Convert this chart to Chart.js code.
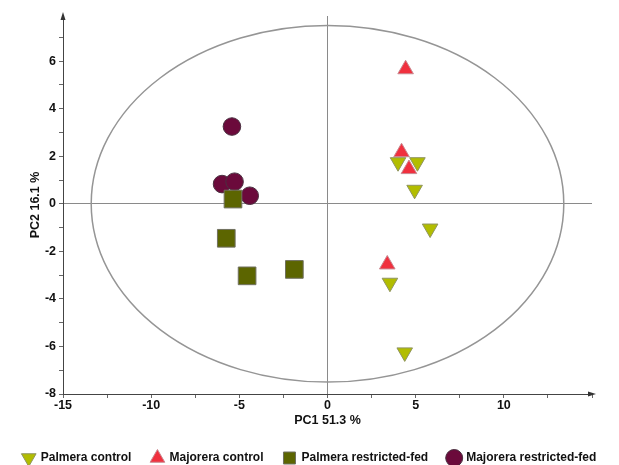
<!DOCTYPE html>
<html>
<head>
<meta charset="utf-8">
<script src="https://cdn.jsdelivr.net/npm/chart.js@4.4.1/dist/chart.umd.min.js"></script>
<style>
  html, body { margin: 0; padding: 0; background: #fff; }
  #wrap { width: 619px; height: 465px; }
</style>
</head>
<body>
<div id="wrap"><canvas id="pcaChart"></canvas></div>
<script>
// Scores PCA (PC1 / PC2)
const palmeraControl = [
  { x: 4.0, y: 1.75 }, { x: 5.1, y: 1.75 }, { x: 4.94, y: 0.59 },
  { x: 5.82, y: -1.04 }, { x: 3.54, y: -3.32 }, { x: 4.38, y: -6.25 }
];
const majoreraControl = [
  { x: 4.43, y: 5.66 }, { x: 4.2, y: 2.17 }, { x: 4.62, y: 1.46 }, { x: 3.39, y: -2.55 }
];
const palmeraRestricted = [
  { x: -5.36, y: 0.2 }, { x: -5.74, y: -1.45 }, { x: -4.56, y: -3.03 }, { x: -1.88, y: -2.76 }
];
const majoreraRestricted = [
  { x: -5.42, y: 3.25 }, { x: -5.98, y: 0.83 }, { x: -5.27, y: 0.93 }, { x: -4.41, y: 0.34 }
];

// Ellipse de Hotelling (demi-axes en unités des axes)
const ellipseRx = 13.4;
const ellipseRy = 7.5;

const boldFont = { family: '"Liberation Sans", Arial, sans-serif', size: 12, weight: 'bold' };
const axisFont = { family: '"Liberation Sans", Arial, sans-serif', size: 12.5, weight: 'bold' };

// Ellipse + flèches des axes
const decorPlugin = {
  id: 'decor',
  beforeDatasetsDraw(chart) {
    const { ctx, scales: { x, y } } = chart;
    const cx = x.getPixelForValue(0), cy = y.getPixelForValue(0);
    const rx = x.getPixelForValue(ellipseRx) - cx;
    const ry = cy - y.getPixelForValue(ellipseRy);
    ctx.save();
    ctx.strokeStyle = '#959595';
    ctx.lineWidth = 1.5;
    ctx.beginPath();
    ctx.ellipse(cx, cy, rx, ry, 0, 0, Math.PI * 2);
    ctx.stroke();
    ctx.restore();
  },
  afterDraw(chart) {
    const { ctx, chartArea: a } = chart;
    ctx.save();
    ctx.fillStyle = '#333';
    ctx.beginPath();
    ctx.moveTo(a.right + 4, a.bottom);
    ctx.lineTo(a.right - 4, a.bottom - 2.5);
    ctx.lineTo(a.right - 4, a.bottom + 2.5);
    ctx.fill();
    ctx.beginPath();
    ctx.moveTo(a.left, a.top - 4);
    ctx.lineTo(a.left - 2.5, a.top + 4);
    ctx.lineTo(a.left + 2.5, a.top + 4);
    ctx.fill();
    ctx.restore();
  }
};

const zeroGrid = (c) => (c.tick && c.tick.value === 0 ? '#8a8a8a' : 'rgba(0,0,0,0)');

new Chart(document.getElementById('pcaChart'), {
  type: 'scatter',
  data: {
    datasets: [
      {
        label: 'Palmera control', data: palmeraControl,
        pointStyle: 'triangle', rotation: 180, pointRadius: 9, pointHoverRadius: 9,
        backgroundColor: '#b2bd00', borderColor: '#8f9460', borderWidth: 1
      },
      {
        label: 'Majorera control', data: majoreraControl,
        pointStyle: 'triangle', pointRadius: 9, pointHoverRadius: 9,
        backgroundColor: '#f0303e', borderColor: '#c98890', borderWidth: 1
      },
      {
        label: 'Palmera restricted-fed', data: palmeraRestricted,
        pointStyle: 'rect', pointRadius: 12.5, pointHoverRadius: 12.5,
        backgroundColor: '#5c6500', borderColor: '#707060', borderWidth: 1
      },
      {
        label: 'Majorera restricted-fed', data: majoreraRestricted,
        pointStyle: 'circle', pointRadius: 8.8, pointHoverRadius: 8.8,
        backgroundColor: '#6b0a3b', borderColor: '#4a3040', borderWidth: 1
      }
    ]
  },
  options: {
    responsive: true,
    maintainAspectRatio: false,
    animation: false,
    layout: { padding: { top: 16, right: 0, left: 0, bottom: -9 } },
    plugins: {
      tooltip: { enabled: false },
      legend: {
        position: 'bottom',
        labels: {
          usePointStyle: true,
          padding: 20,
          color: '#111',
          font: boldFont
        }
      }
    },
    scales: {
      x: {
        type: 'linear',
        min: -15, max: 15,
        afterFit: (s) => { s.height = 38; },
        border: { color: '#444', width: 1 },
        grid: { drawOnChartArea: true, color: zeroGrid, tickColor: '#666', tickLength: 4 },
        ticks: {
          stepSize: 2.5, autoSkip: false, maxRotation: 0, padding: 0,
          color: '#111', font: axisFont,
          callback: (v) => (v % 5 === 0 && v < 15 ? v : '')
        },
        title: { display: true, text: 'PC1 51.3 %', color: '#111', font: axisFont, padding: { top: 0, bottom: 4 } }
      },
      y: {
        type: 'linear',
        min: -8, max: 7.9,
        afterFit: (s) => { s.width = 63; },
        border: { color: '#444', width: 1 },
        grid: { drawOnChartArea: true, color: zeroGrid, tickColor: '#666', tickLength: 4 },
        ticks: {
          stepSize: 1, autoSkip: false, includeBounds: false, padding: 3,
          color: '#111', font: axisFont,
          callback: (v) => (v % 2 === 0 && v <= 6 ? v : '')
        },
        title: { display: true, text: 'PC2 16.1 %', color: '#111', font: axisFont, padding: { top: 28, bottom: 0 } }
      },
      // marge droite réservée au tracé (la légende garde toute la largeur)
      spacer: {
        type: 'linear',
        position: 'right',
        afterFit: (s) => { s.width = 27; },
        border: { display: false },
        grid: { display: false, drawOnChartArea: false },
        ticks: { display: false }
      }
    }
  },
  plugins: [decorPlugin]
});
</script>
</body>
</html>
